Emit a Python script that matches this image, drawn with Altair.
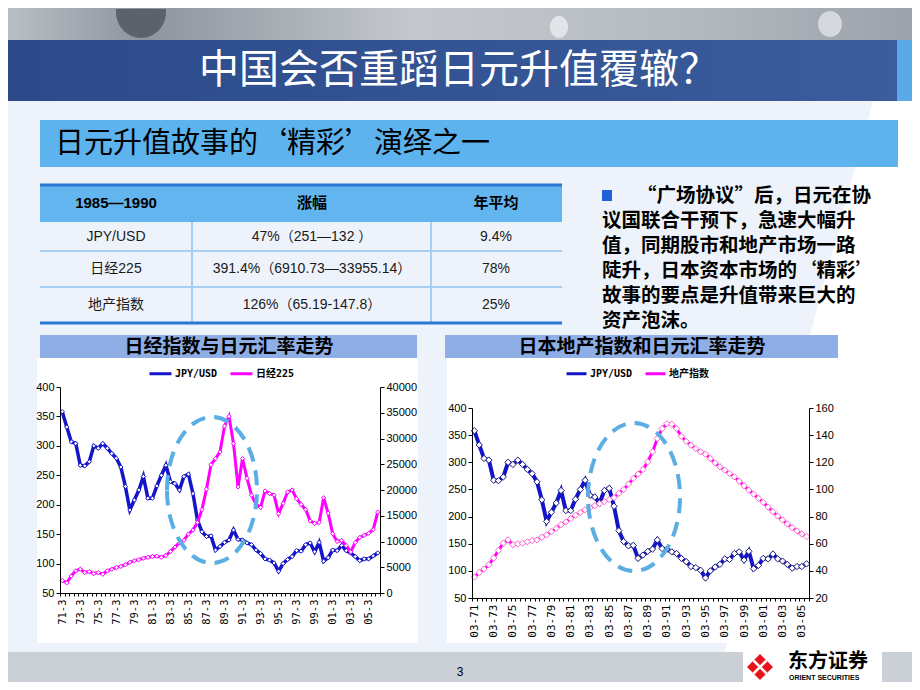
import json
import altair as alt
import pandas as pd

# ---------------- content / data ----------------
TITLE = "中国会否重蹈日元升值覆辙？"
SUBTITLE = "日元升值故事的‘精彩’演绎之一"
TABLE_HEADER = ["1985—1990", "涨幅", "年平均"]
TABLE_ITEM = ["JPY/USD", "日经225", "地产指数"]
TABLE_RISE = ["47%（251—132 ）", "391.4%（6910.73—33955.14）", "126%（65.19-147.8）"]
TABLE_AVG = ["9.4%", "78%", "25%"]
NOTE_LINES = [
    "“广场协议”后，日元在协",
    "议国联合干预下，急速大幅升",
    "值，同期股市和地产市场一路",
    "陡升，日本资本市场的‘精彩’",
    "故事的要点是升值带来巨大的",
    "资产泡沫。",
]
LEFT_TITLE = "日经指数与日元汇率走势"
RIGHT_TITLE = "日本地产指数和日元汇率走势"
LEFT_SERIES = ["JPY/USD", "日经225"]
RIGHT_SERIES = ["JPY/USD", "地产指数"]
PAGE_NO = "3"
LOGO_CN = "东方证券"
LOGO_EN = "ORIENT SECURITIES"

# semi-annual observations, March and September
LEFT_DATES = [f"{y % 100:02d}-{m}" for y in range(1971, 2007) for m in (3, 9)][:71]
RIGHT_DATES = [f"{m:02d}-{y % 100:02d}" for y in range(1971, 2006) for m in (3, 9)]

JPY_USD = [358, 332, 307, 304, 267, 266, 273, 300, 296, 304,
           296, 287, 279, 264, 231, 191, 208, 225, 248, 211,
           211, 232, 250, 267, 239, 236, 225, 248, 252, 219,
           174, 154, 146, 147, 123, 129, 136, 140, 157, 141,
           140, 135, 132, 123, 117, 108, 106, 101, 87, 100,
           107, 112, 122, 121, 132, 135, 120, 136, 104, 110,
           123, 122, 131, 122, 118, 112, 105, 108, 108, 113, 118]
NIKKEI_225 = [2450, 1980, 3300, 4300, 4630, 3970, 4160, 3770, 3970, 3640,
              4300, 4630, 4960, 5160, 5490, 5950, 6280, 6480, 6740, 6940,
              7070, 7140, 6940, 7270, 8060, 8920, 9780, 10250, 11440, 12230,
              13680, 16200, 20160, 24900, 26100, 27400, 32400, 34300, 29000, 20600,
              26100, 22250, 19000, 17200, 16600, 19800, 19300, 19000, 15400, 17400,
              19600, 20000, 18300, 17200, 16200, 14000, 13500, 13700, 18500, 15500,
              11500, 10000, 10200, 9200, 8000, 9800, 10800, 11200, 11600, 12300, 15700]
LAND_INDEX = [35.4, 38.8, 41.3, 44.5, 49.4, 55.0, 60.4, 62.8, 59.2, 59.9,
              60.4, 61.4, 62.3, 62.8, 64.8, 66.5, 68.9, 71.4, 74.0, 76.0,
              78.5, 81.0, 83.0, 85.0, 86.5, 88.0, 89.5, 91.0, 92.5, 94.0,
              97.1, 100.0, 103.9, 108.1, 111.3, 114.7, 120.3, 127.7, 137.5, 144.8,
              148.5, 148.0, 144.8, 139.2, 135.5, 132.6, 130.1, 127.7, 126.0, 122.8,
              119.6, 116.7, 114.2, 111.8, 109.3, 106.1, 102.7, 99.5, 96.6, 93.4,
              90.5, 87.0, 83.6, 80.4, 77.5, 74.6, 71.9, 69.4, 67.2, 65.3]
JPY_TICKS = [50, 100, 150, 200, 250, 300, 350, 400]
NIKKEI_TICKS = [0, 5000, 10000, 15000, 20000, 25000, 30000, 35000, 40000]
LAND_TICKS = [20, 40, 60, 80, 100, 120, 140, 160]

# ---------------- styling ----------------
BG = "#EEF3FB"
CJK = "Noto Sans CJK SC"
LAT = "Liberation Sans, Noto Sans CJK SC"
NARROW = "Liberation Sans Narrow, Liberation Sans"
MONO = "DejaVu Sans Mono, Noto Sans CJK SC"
BLUE = "#1414C8"
MAGENTA = "#FF00FF"
DASH_BLUE = "#5BAEE4"
HEAD = "#8FAEE6"
one = pd.DataFrame({"k": [0]})

# section origins (slide pixel coordinates of each section's plot origin)
O_TOP = (60, 8)
O_LEFT = (60, 387)
O_RIGHT = (472, 387)
O_BOT = (60, 643)


def box(o, x, x2, y, y2, color):
    return alt.Chart(one).mark_rect(color=color, opacity=1).encode(
        x=alt.value(x - o[0]), x2=alt.value(x2 - o[0]),
        y=alt.value(y - o[1]), y2=alt.value(y2 - o[1]))


def txt(o, s, x, y, size, color="black", font=CJK, weight="normal", align="center"):
    return alt.Chart(one).mark_text(
        text=s, font=font, fontSize=size, fontWeight=weight, color=color,
        align=align, baseline="middle").encode(x=alt.value(x - o[0]), y=alt.value(y - o[1]))


def shape(o, d, fill=None, stroke=None, width=1.0, dash=None):
    kw = dict(shape=d, size=4, opacity=1, filled=fill is not None,
              strokeWidth=width if stroke else 0)
    if fill is not None:
        kw["fill"] = fill
    if stroke is not None:
        kw["stroke"] = stroke
    if dash is not None:
        kw["strokeDash"] = dash
    return alt.Chart(one).mark_point(**kw).encode(x=alt.value(-o[0]), y=alt.value(-o[1]))


def gbox(o, x, x2, y, y2, stops):
    g = alt.Gradient(gradient="linear", x1=0, x2=1, y1=0, y2=0,
                     stops=[alt.GradientStop(color=c, offset=s) for s, c in stops])
    return alt.Chart(one).mark_rect(color=g).encode(
        x=alt.value(x - o[0]), x2=alt.value(x2 - o[0]),
        y=alt.value(y - o[1]), y2=alt.value(y2 - o[1]))


# ---------------- top section (title, table, note) ----------------
o = O_TOP
top_layers = [
    gbox(o, 8, 912, 8, 40, [(0, "#BABFC6"), (0.15, "#8E949D"), (0.45, "#C4C8CE"),
                           (0.75, "#B5BAC1"), (1, "#9CA2AA")]),
    shape(o, "M 116 9 L 166 9 L 166 12 A 25 26 0 0 1 116 12 Z", fill="#5C626B"),
    shape(o, "M 550 27 A 9 11 0 1 1 568 27 A 9 11 0 1 1 550 27 Z", fill="#E2E5E8"),
    shape(o, "M 818 24 A 12 13 0 1 1 842 24 A 12 13 0 1 1 818 24 Z", fill="#D5D9DD"),
    gbox(o, 8, 912, 40, 101, [(0, "#2C4A8A"), (1, "#3B5D9D")]),
    box(o, 897, 912, 40, 101, "#5AAAE8"),
    shape(o, "M 873 101 L 912 101 L 912 335 L 810 335 Z", fill="white"),
    txt(o, TITLE, 459, 71, 40, color="white"),
    box(o, 40, 898, 120, 167, "#5DB3EE"),
    txt(o, SUBTITLE, 55, 144, 29, align="left"),
    # table
    box(o, 40, 562, 185, 222, "#62B5EE"),
    box(o, 40, 562, 183.5, 186.5, "#2A78D4"),
    box(o, 40, 562, 250, 252, "#A6CEF2"),
    box(o, 40, 562, 286, 288, "#A6CEF2"),
    box(o, 191, 193, 222, 322, "#A6CEF2"),
    box(o, 430, 432, 222, 322, "#A6CEF2"),
    box(o, 40, 562, 321.5, 324.5, "#2A78D4"),
    txt(o, TABLE_HEADER[0], 116, 203, 15, font="Liberation Sans", weight="bold"),
    txt(o, TABLE_HEADER[1], 312, 203, 15, weight="bold"),
    txt(o, TABLE_HEADER[2], 496, 203, 15, weight="bold"),
]
for r, yy in enumerate([236.5, 269, 305]):
    top_layers.append(txt(o, TABLE_ITEM[r], 116, yy, 14, color="#1A1A1A", font=LAT))
    top_layers.append(txt(o, TABLE_RISE[r], 312, yy, 14, color="#1A1A1A", font=LAT))
    top_layers.append(txt(o, TABLE_AVG[r], 496, yy, 14, color="#1A1A1A", font=LAT))
top_layers.append(box(o, 602, 612, 190, 201, "#2060D8"))
for i, (line, yy) in enumerate(zip(NOTE_LINES, [196, 221, 246, 271, 296, 321])):
    top_layers.append(txt(o, line, 637 if i == 0 else 602, yy, 19.5, weight="bold", align="left"))

top = alt.layer(*top_layers).properties(width=852, height=327)


# ---------------- chart helpers ----------------
def date_x(cats, size):
    keep = json.dumps(cats[::4])
    return alt.X(
        "date:N",
        scale=alt.Scale(type="band", domain=cats, paddingInner=0, paddingOuter=0),
        bandPosition=0.5,
        axis=alt.Axis(title=None, labelAngle=270, labelAlign="right", labelBaseline="middle",
                      labelExpr=f"indexof({keep}, datum.value) >= 0 ? datum.value : ''",
                      tickBand="extent", tickSize=3, tickColor="black", domainColor="black",
                      labelFont=MONO, labelFontSize=size, labelColor="black", labelPadding=3,
                      grid=False, zindex=1, labelOverlap=False),
    )


def val_y(domain, ticks, orient, yrange, show=True):
    axis = alt.Axis(title=None, orient=orient, values=ticks, format="d", tickSize=4,
                    tickColor="black", domainColor="black", labelFont=NARROW, labelFontSize=11,
                    labelColor="black", labelPadding=2, grid=False, zindex=1) if show else None
    return alt.Y("value:Q", scale=alt.Scale(domain=domain, range=yrange, nice=False, zero=False),
                 axis=axis)


def color_enc(names, lx, ly, sym):
    return alt.Color("series:N", scale=alt.Scale(domain=names, range=[BLUE, MAGENTA]),
                     legend=alt.Legend(title=None, orient="none", legendX=lx, legendY=ly,
                                       direction="horizontal", symbolType="stroke",
                                       symbolStrokeWidth=3, symbolSize=sym, labelFont=MONO,
                                       labelFontWeight="bold", labelFontSize=10,
                                       labelColor="black", columnPadding=6, labelOffset=2))


def series(dates, values, name, domain, ticks, orient, yrange, xsize, col, lw, msize, mcolor):
    df = pd.DataFrame({"date": dates, "value": values, "series": name})
    x = date_x(dates, xsize)
    line = alt.Chart(df).mark_line(strokeWidth=lw).encode(
        x=x, y=val_y(domain, ticks, orient, yrange), color=col)
    pts = alt.Chart(df).mark_point(shape="diamond", filled=True, fill="white", stroke=mcolor,
                                   strokeWidth=1, size=msize, opacity=1).encode(
        x=x, y=val_y(domain, ticks, orient, yrange, show=False))
    return [line, pts]


# ---------------- left chart ----------------
o = O_LEFT
lcol = color_enc(LEFT_SERIES, 88, -26, 484)
LR = [206, 0]
left = alt.layer(
    box(o, 8, 40, 335, 643, BG),
    box(o, 40, 417, 335, 358, HEAD),
    txt(o, LEFT_TITLE, 229, 347, 19, weight="bold"),
    box(o, 37, 418, 358, 643, "white"),
    *series(LEFT_DATES, JPY_USD, LEFT_SERIES[0], [50, 400], JPY_TICKS, "left", LR, 10.5,
            lcol, 3.5, 18, BLUE),
    *series(LEFT_DATES, NIKKEI_225, LEFT_SERIES[1], [0, 40000], NIKKEI_TICKS, "right", LR, 10.5,
            lcol, 3, 18, MAGENTA),
    shape(o, "M 167 490 A 45 73 0 1 1 257 490 A 45 73 0 1 1 167 490", stroke=DASH_BLUE,
          width=4, dash=[15, 9]),
).resolve_scale(y="independent").properties(width=320, height=206)

# ---------------- right chart ----------------
o = O_RIGHT
rcol = color_enc(RIGHT_SERIES, 93, -25, 400)
RR = [211, 21]
right = alt.layer(
    box(o, 445, 838, 335, 358, HEAD),
    txt(o, RIGHT_TITLE, 642, 347, 19, weight="bold"),
    box(o, 447, 838, 358, 643, "white"),
    box(o, 838, 912, 335, 643, "white"),
    *series(RIGHT_DATES, JPY_USD[:70], RIGHT_SERIES[0], [50, 400], JPY_TICKS, "left", RR, 11,
            rcol, 4, 40, "#1A1A80"),
    *series(RIGHT_DATES, LAND_INDEX, RIGHT_SERIES[1], [20, 160], LAND_TICKS, "right", RR, 11,
            rcol, 3, 40, "#FF66CC"),
    shape(o, "M 588 497 A 46 74 0 1 1 680 497 A 46 74 0 1 1 588 497", stroke=DASH_BLUE,
          width=4, dash=[15, 9]),
).resolve_scale(y="independent").properties(width=337, height=211)

# ---------------- bottom strip ----------------
o = O_BOT
bottom = alt.layer(
    box(o, 8, 40, 643, 652, BG),
    shape(o, "M 727 643 L 912 643 L 912 652 L 725 652 Z", fill="white"),
    box(o, 8, 912, 652, 682, "#CBCFD6"),
    box(o, 743, 882, 652, 682, "white"),
    shape(o, "M 760 654 L 773 667 L 760 680 L 747 667 Z", fill="#E8141B"),
    shape(o, "M 753.5 660.5 L 766.5 673.5 M 766.5 660.5 L 753.5 673.5", stroke="white", width=2.5),
    txt(o, LOGO_CN, 788, 662, 20, weight="bold", align="left"),
    txt(o, LOGO_EN, 789, 678, 7, font="Liberation Sans", weight="bold", align="left"),
    txt(o, PAGE_NO, 460, 672, 12, font="Liberation Sans"),
).properties(width=852, height=39)

row2 = alt.hconcat(left, right, spacing=27).resolve_scale(color="independent")

chart = alt.vconcat(top, row2, bottom, spacing=0).properties(
    padding=0, background=BG).configure_view(stroke=None)

chart.save("out.html", embed_options={"renderer": "svg", "actions": False})
